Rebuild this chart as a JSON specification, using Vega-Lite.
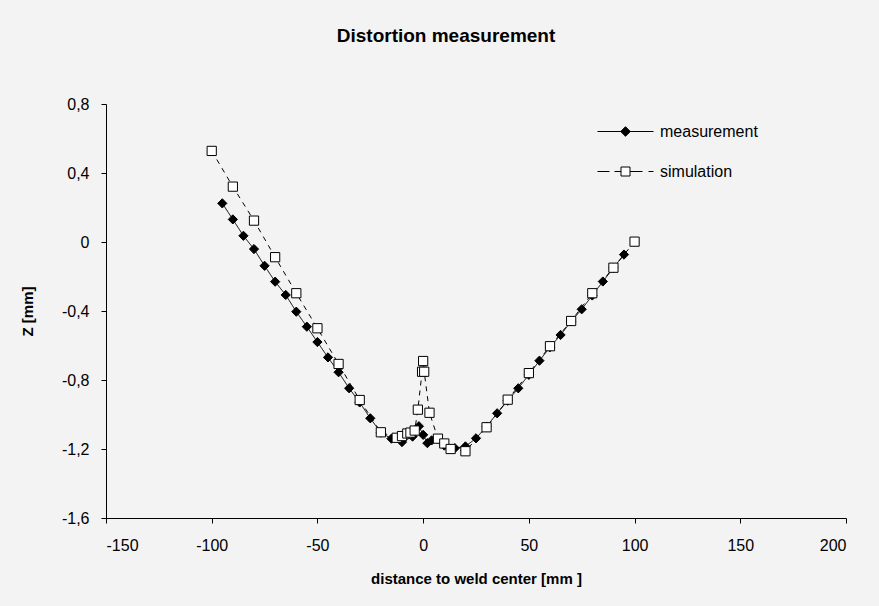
{
  "$schema": "https://vega.github.io/schema/vega-lite/v6.json",
  "width": 740,
  "height": 414,
  "autosize": {"type": "none"},
  "padding": {"left": 106, "top": 104, "right": 33, "bottom": 88},
  "background": "#f3f3f3",
  "title": {
    "text": "Distortion measurement",
    "font": "Liberation Sans",
    "fontSize": 19,
    "fontWeight": "bold",
    "color": "#000000",
    "anchor": "middle",
    "dx": -30,
    "offset": 50
  },
  "config": {
    "locale": {
      "number": {"decimal": ",", "thousands": ".", "grouping": [3], "currency": ["", " €"], "minus": "-"}
    },
    "view": {"stroke": null},
    "font": "Liberation Sans",
    "axis": {
      "grid": false,
      "domainColor": "#000000",
      "domainWidth": 1,
      "tickColor": "#000000",
      "tickWidth": 1,
      "tickSize": 5,
      "labelColor": "#000000",
      "labelFont": "Liberation Sans",
      "labelFontSize": 16,
      "titleColor": "#000000",
      "titleFont": "Liberation Sans",
      "titleFontSize": 15,
      "titleFontWeight": "bold"
    },
    "legend": {
      "title": null,
      "orient": "none",
      "padding": 0,
      "symbolSize": 400,
      "symbolStrokeWidth": 1,
      "symbolOpacity": 1,
      "labelOffset": 24,
      "labelFont": "Liberation Sans",
      "labelFontSize": 16,
      "labelColor": "#000000"
    }
  },
  "data": {
    "values": [
      {"series": "measurement", "x": -95, "z": 0.224},
      {"series": "measurement", "x": -90, "z": 0.131},
      {"series": "measurement", "x": -85, "z": 0.036},
      {"series": "measurement", "x": -80, "z": -0.041},
      {"series": "measurement", "x": -75, "z": -0.138},
      {"series": "measurement", "x": -70, "z": -0.23},
      {"series": "measurement", "x": -65, "z": -0.307},
      {"series": "measurement", "x": -60, "z": -0.404},
      {"series": "measurement", "x": -55, "z": -0.491},
      {"series": "measurement", "x": -50, "z": -0.58},
      {"series": "measurement", "x": -45, "z": -0.669},
      {"series": "measurement", "x": -40, "z": -0.755},
      {"series": "measurement", "x": -35, "z": -0.848},
      {"series": "measurement", "x": -30, "z": -0.93},
      {"series": "measurement", "x": -25, "z": -1.022},
      {"series": "measurement", "x": -20, "z": -1.105},
      {"series": "measurement", "x": -15, "z": -1.14},
      {"series": "measurement", "x": -10, "z": -1.16},
      {"series": "measurement", "x": -5, "z": -1.128},
      {"series": "measurement", "x": -2, "z": -1.068},
      {"series": "measurement", "x": 0, "z": -1.118},
      {"series": "measurement", "x": 2, "z": -1.166},
      {"series": "measurement", "x": 4, "z": -1.15},
      {"series": "measurement", "x": 10, "z": -1.18},
      {"series": "measurement", "x": 15, "z": -1.195},
      {"series": "measurement", "x": 20, "z": -1.185},
      {"series": "measurement", "x": 25, "z": -1.138},
      {"series": "measurement", "x": 30, "z": -1.07},
      {"series": "measurement", "x": 35, "z": -0.993},
      {"series": "measurement", "x": 40, "z": -0.92},
      {"series": "measurement", "x": 45, "z": -0.848},
      {"series": "measurement", "x": 50, "z": -0.77},
      {"series": "measurement", "x": 55, "z": -0.688},
      {"series": "measurement", "x": 60, "z": -0.61},
      {"series": "measurement", "x": 65, "z": -0.539},
      {"series": "measurement", "x": 70, "z": -0.46},
      {"series": "measurement", "x": 75, "z": -0.39},
      {"series": "measurement", "x": 80, "z": -0.31},
      {"series": "measurement", "x": 85, "z": -0.229},
      {"series": "measurement", "x": 90, "z": -0.15},
      {"series": "measurement", "x": 95, "z": -0.073},
      {"series": "simulation", "x": -100, "z": 0.528},
      {"series": "simulation", "x": -90, "z": 0.321},
      {"series": "simulation", "x": -80, "z": 0.124},
      {"series": "simulation", "x": -70, "z": -0.088},
      {"series": "simulation", "x": -60, "z": -0.297},
      {"series": "simulation", "x": -50, "z": -0.5},
      {"series": "simulation", "x": -40, "z": -0.707},
      {"series": "simulation", "x": -30, "z": -0.916},
      {"series": "simulation", "x": -20, "z": -1.103},
      {"series": "simulation", "x": -12.5, "z": -1.135},
      {"series": "simulation", "x": -10, "z": -1.125},
      {"series": "simulation", "x": -7.5, "z": -1.11},
      {"series": "simulation", "x": -6, "z": -1.105},
      {"series": "simulation", "x": -4, "z": -1.093},
      {"series": "simulation", "x": -2.5, "z": -0.972},
      {"series": "simulation", "x": -0.5, "z": -0.752},
      {"series": "simulation", "x": 0, "z": -0.69},
      {"series": "simulation", "x": 0.5, "z": -0.752},
      {"series": "simulation", "x": 3, "z": -0.99},
      {"series": "simulation", "x": 7, "z": -1.14},
      {"series": "simulation", "x": 10, "z": -1.168},
      {"series": "simulation", "x": 13, "z": -1.2},
      {"series": "simulation", "x": 20, "z": -1.213},
      {"series": "simulation", "x": 30, "z": -1.074},
      {"series": "simulation", "x": 40, "z": -0.914},
      {"series": "simulation", "x": 50, "z": -0.76},
      {"series": "simulation", "x": 60, "z": -0.604},
      {"series": "simulation", "x": 70, "z": -0.458},
      {"series": "simulation", "x": 80, "z": -0.297},
      {"series": "simulation", "x": 90, "z": -0.149},
      {"series": "simulation", "x": 100, "z": 0.002}
    ]
  },
  "encoding": {
    "x": {
      "field": "x",
      "type": "quantitative",
      "scale": {"domain": [-150, 200], "nice": false, "zero": false},
      "axis": {
        "title": "distance to weld center [mm ]",
        "values": [-150, -100, -50, 0, 50, 100, 150, 200],
        "format": "d",
        "labelPadding": 14,
        "titlePadding": 18
      }
    },
    "y": {
      "field": "z",
      "type": "quantitative",
      "scale": {"domain": [-1.6, 0.8], "nice": false, "zero": false},
      "axis": {
        "title": "Z [mm]",
        "values": [-1.6, -1.2, -0.8, -0.4, 0, 0.4, 0.8],
        "format": ".1~f",
        "labelPadding": 12,
        "titlePadding": 26
      }
    }
  },
  "layer": [
    {
      "mark": {"type": "line", "color": "#000000", "strokeWidth": 1},
      "encoding": {
        "detail": {"field": "series"},
        "strokeDash": {
          "condition": {"test": "datum.series === 'simulation'", "value": [5, 5]},
          "value": [1, 0]
        }
      }
    },
    {
      "mark": {"type": "point", "filled": false, "stroke": "#000000", "strokeWidth": 1, "opacity": 1, "size": 85},
      "encoding": {
        "fill": {
          "condition": {"test": "datum.series === 'measurement'", "value": "#000000"},
          "value": "#ffffff"
        },
        "shape": {
          "field": "series",
          "type": "nominal",
          "scale": {"domain": ["measurement", "simulation"], "range": ["diamond", "square"]},
          "legend": null
        }
      }
    },
    {
      "description": "Key entry for the measured series: solid line with a filled diamond",
      "transform": [{"filter": "false"}],
      "mark": {
        "type": "point",
        "shape": "M-2.8,0H2.8M0,-0.48L0.48,0L0,0.48L-0.48,0Z",
        "filled": true,
        "fill": "#000000",
        "stroke": "#000000",
        "strokeWidth": 1,
        "size": 400
      },
      "encoding": {
        "opacity": {
          "field": "series",
          "type": "nominal",
          "scale": {"domain": ["measurement"], "range": [1]},
          "legend": {"legendX": 509, "legendY": 17}
        }
      }
    },
    {
      "description": "Key entry for the simulated series: dashed line with an open square",
      "transform": [{"filter": "false"}],
      "mark": {
        "type": "point",
        "shape": "M-2.8,0H-1.6M-1.1,0H-0.45M-0.45,-0.45H0.45V0.45H-0.45ZM0.45,0H1.7M2.3,0H2.8",
        "filled": true,
        "fill": "#ffffff",
        "stroke": "#000000",
        "strokeWidth": 1,
        "size": 400
      },
      "encoding": {
        "opacity": {
          "field": "series",
          "type": "nominal",
          "scale": {"domain": ["simulation"], "range": [1]},
          "legend": {"legendX": 509, "legendY": 57}
        }
      }
    }
  ],
  "resolve": {"scale": {"opacity": "independent"}, "legend": {"opacity": "independent"}}
}
